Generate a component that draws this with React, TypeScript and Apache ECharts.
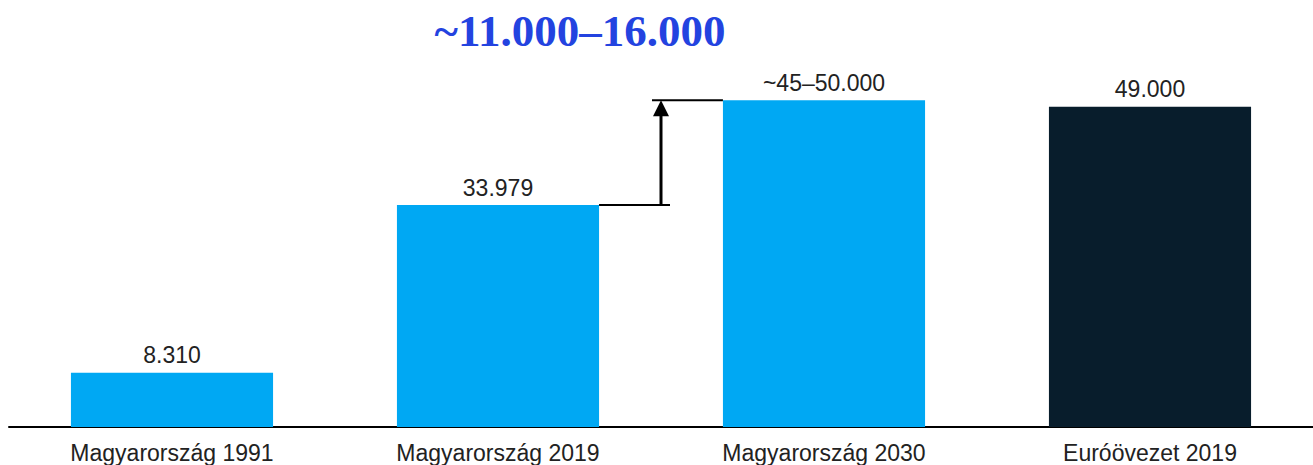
import React, { useEffect, useRef } from "react";
import * as echarts from "echarts";

const categories = ["Magyarország 1991", "Magyarország 2019", "Magyarország 2030", "Euróövezet 2019"];
const values = [8310, 33979, 50000, 49000];
const valueLabels = ["8.310", "33.979", "~45–50.000", "49.000"];
const barColors = ["#00A8F3", "#00A8F3", "#00A8F3", "#081D2C"];
const gapLabel = "~11.000–16.000";
const gapFrom = 1;
const gapTo = 2;

export default function App() {
  const ref = useRef<HTMLDivElement>(null);
  useEffect(() => {
    if (!ref.current) return;
    const chart = echarts.init(ref.current, null, { renderer: "svg" });
    chart.setOption({
      animation: false,
      grid: { left: 9, right: 0, top: 35, bottom: 38, containLabel: false },
      xAxis: {
        type: "category",
        data: categories,
        axisLine: { lineStyle: { color: "#000", width: 2 } },
        axisTick: { show: false },
        axisLabel: { color: "#222", fontSize: 23, fontFamily: "Liberation Sans", margin: 14 },
      },
      yAxis: { type: "value", min: 0, max: 60000, show: false, splitLine: { show: false } },
      series: [
        {
          type: "bar",
          barWidth: "62%",
          data: values.map((v, i) => ({ value: v, itemStyle: { color: barColors[i] } })),
          label: {
            show: true,
            position: "top",
            distance: 6,
            color: "#222",
            fontSize: 23,
            fontFamily: "Liberation Sans",
            formatter: (p: any) => valueLabels[p.dataIndex],
          },
        },
      ],
    });
    const half = (chart.convertToPixel({ xAxisIndex: 0 }, 1) - chart.convertToPixel({ xAxisIndex: 0 }, 0)) * 0.31;
    const x1 = chart.convertToPixel({ xAxisIndex: 0 }, gapFrom) + half;
    const x2 = chart.convertToPixel({ xAxisIndex: 0 }, gapTo) - half;
    const y1 = chart.convertToPixel({ yAxisIndex: 0 }, values[gapFrom]);
    const y2 = chart.convertToPixel({ yAxisIndex: 0 }, values[gapTo]);
    const ax = x1 + (x2 - x1) * 0.5;
    chart.setOption({
      graphic: [
        { type: "line", shape: { x1: x1, y1: y1, x2: ax + 9, y2: y1 }, style: { stroke: "#000", lineWidth: 2 } },
        { type: "line", shape: { x1: ax - 9, y1: y2, x2: x2, y2: y2 }, style: { stroke: "#000", lineWidth: 2 } },
        { type: "line", shape: { x1: ax, y1: y1, x2: ax, y2: y2 + 12 }, style: { stroke: "#000", lineWidth: 3 } },
        {
          type: "polygon",
          shape: { points: [[ax - 8, y2 + 16], [ax + 8, y2 + 16], [ax, y2]] },
          style: { fill: "#000" },
        },
        {
          type: "text",
          x: 580,
          y: 31,
          style: {
            text: gapLabel,
            fill: "#2343E0",
            font: "bold 45px 'Liberation Serif'",
            textAlign: "center",
            textVerticalAlign: "middle",
          },
        },
      ],
    });
    return () => chart.dispose();
  }, []);
  return <div ref={ref} style={{ position: "absolute", left: 0, top: 0, width: 1313, height: 465 }} />;
}
